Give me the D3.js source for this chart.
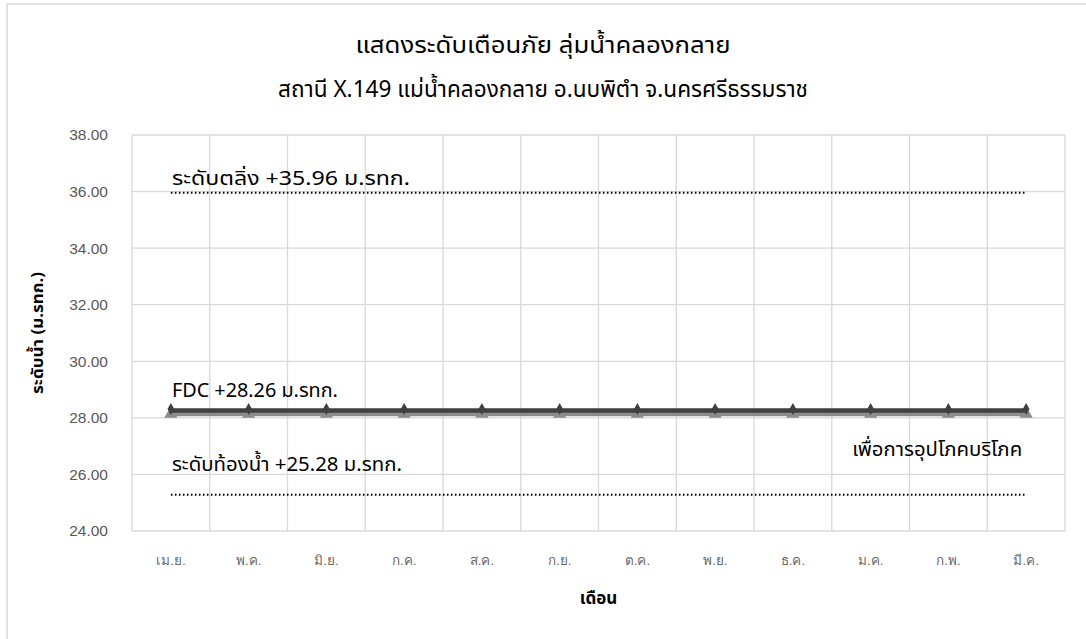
<!DOCTYPE html>
<html><head><meta charset="utf-8">
<script src="https://cdn.jsdelivr.net/npm/d3@7"></script>
<style>body{margin:0;background:#fff}svg{display:block;font-family:"Noto Sans","Noto Sans Thai",Tahoma,sans-serif}</style>
</head><body><svg id="c" width="1086" height="639"></svg>
<script>
const months = ["เม.ย.","พ.ค.","มิ.ย.","ก.ค.","ส.ค.","ก.ย.","ต.ค.","พ.ย.","ธ.ค.","ม.ค.","ก.พ.","มี.ค."];
const fdcValues = [28.26,28.26,28.26,28.26,28.26,28.26,28.26,28.26,28.26,28.26,28.26,28.26];
const consumeValues = [28.14,28.14,28.14,28.14,28.14,28.14,28.14,28.14,28.14,28.14,28.14,28.14];
const bankValues = [35.96,35.96,35.96,35.96,35.96,35.96,35.96,35.96,35.96,35.96,35.96,35.96];
const bedValues = [25.28,25.28,25.28,25.28,25.28,25.28,25.28,25.28,25.28,25.28,25.28,25.28];
const yTicks = [24,26,28,30,32,34,36,38];
const titles = ["แสดงระดับเตือนภัย ลุ่มน้ำคลองกลาย","สถานี X.149 แม่น้ำคลองกลาย อ.นบพิตำ จ.นครศรีธรรมราช"];

const svg = d3.select("#c");
const L=132,R=1065,T=135,B=531;
svg.append("rect").attr("x",7).attr("y",4).attr("width",1090).attr("height",650)
  .attr("fill","#fff").attr("stroke","#d9d9d9").attr("stroke-width",1.5);

const x = d3.scaleBand().domain(months).range([L,R]);
const y = d3.scaleLinear().domain([24,38]).range([B,T]);

// grid
const g = svg.append("g");
g.selectAll(".hg").data(yTicks).join("line").attr("x1",L).attr("x2",R)
 .attr("y1",d=>y(d)).attr("y2",d=>y(d)).attr("stroke","#d9d9d9").attr("stroke-width",1.3);
const vb = months.map(m=>x(m)).concat([R]);
g.selectAll(".vg").data(vb).join("line").attr("x1",d=>d).attr("x2",d=>d)
 .attr("y1",T).attr("y2",B).attr("stroke","#d9d9d9").attr("stroke-width",1.3);

// y axis labels
const yAxis = d3.axisLeft(y).tickValues(yTicks).tickFormat(d3.format(".2f")).tickSize(0).tickPadding(24);
const ya = svg.append("g").attr("transform",`translate(${L},0)`).call(yAxis);
ya.select(".domain").remove();
ya.selectAll("text").attr("font-size",15.5).attr("fill","#595959").attr("font-family","inherit");

const xAxis = d3.axisBottom(x).tickSize(0).tickPadding(24);
const xa = svg.append("g").attr("transform",`translate(0,${B})`).call(xAxis);
xa.select(".domain").remove();
xa.selectAll("text").attr("font-size",13.5).attr("fill","#6a6a6a").attr("font-family","inherit");

const cx = m => x(m)+x.bandwidth()/2;
const line = vals => d3.line().x((d,i)=>cx(months[i])).y(d=>y(d))(vals);

// dotted lines
[bankValues,bedValues].forEach(v=>{
  svg.append("path").attr("d",line(v)).attr("fill","none").attr("stroke","#000")
   .attr("stroke-width",2).attr("stroke-dasharray","1.6,2.4");
});
// consumption series (gray triangles)
svg.append("path").attr("d",line(consumeValues)).attr("fill","none").attr("stroke","#8c8c8c").attr("stroke-width",4.5);
svg.selectAll(".tri").data(consumeValues).join("path")
 .attr("d",d3.symbol().type(d3.symbolTriangle).size(75))
 .attr("transform",(d,i)=>`translate(${cx(months[i])},${y(d)})`).attr("fill","#8c8c8c");
// FDC series
svg.append("path").attr("d",line(fdcValues)).attr("fill","none").attr("stroke","#404040").attr("stroke-width",4.5);
svg.selectAll(".dia").data(fdcValues).join("path")
 .attr("d",d3.symbol().type(d3.symbolDiamond).size(40))
 .attr("transform",(d,i)=>`translate(${cx(months[i])},${y(d)-1.5})`).attr("fill","#404040");

// annotations
const ann = [
  {t:"ระดับตลิ่ง +35.96 ม.รทก.", x:cx(months[0])+1, y:y(bankValues[0])-8, a:"start", w:238},
  {t:"FDC +28.26 ม.รทก.", x:cx(months[0])+1, y:y(fdcValues[0])-14, a:"start", w:166},
  {t:"ระดับท้องน้ำ +25.28 ม.รทก.", x:cx(months[0])+1, y:y(bedValues[0])-24, a:"start", w:230},
  {t:"เพื่อการอุปโภคบริโภค", x:cx(months[11])-4, y:456, a:"end", w:170}
];
svg.selectAll(".ann").data(ann).join("text").attr("x",d=>d.x).attr("y",d=>d.y)
 .attr("text-anchor",d=>d.a).attr("font-size",20).attr("fill","#000")
 .attr("textLength",d=>d.w).attr("lengthAdjust","spacingAndGlyphs").text(d=>d.t);

// titles
const tw=[375,530];
svg.selectAll(".tt").data(titles).join("text").attr("x",543).attr("y",(d,i)=>53+i*44)
 .attr("text-anchor","middle").attr("font-size",23).attr("fill","#000")
 .attr("textLength",(d,i)=>tw[i]).attr("lengthAdjust","spacingAndGlyphs").text(d=>d);

svg.append("text").attr("transform",`translate(43,${(T+B)/2}) rotate(-90)`)
 .attr("text-anchor","middle").attr("font-size",16).attr("font-weight","bold").attr("fill","#000")
 .attr("textLength",122).attr("lengthAdjust","spacingAndGlyphs")
 .text("ระดับน้ำ (ม.รทก.)");
svg.append("text").attr("x",(L+R)/2).attr("y",604).attr("text-anchor","middle")
 .attr("font-size",17).attr("font-weight","bold").attr("fill","#000").text("เดือน");
</script></body></html>
